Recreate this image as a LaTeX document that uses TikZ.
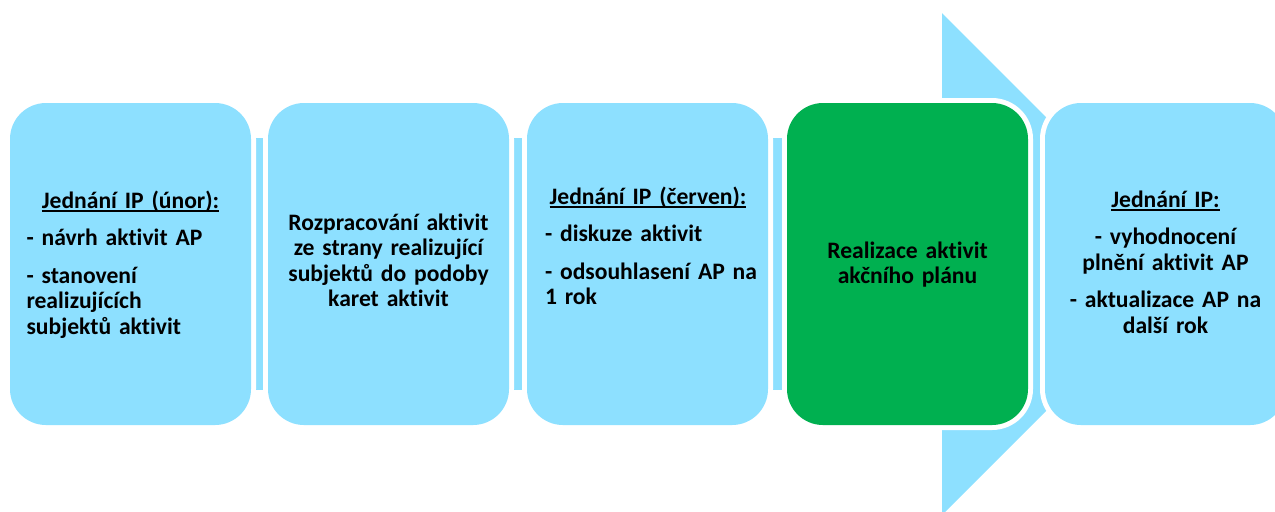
\documentclass[tikz,border=0pt]{standalone}
\usepackage{fontspec}
\setmainfont{Carlito}[Ligatures=NoCommon]
\definecolor{lb}{RGB}{141,224,255}
\definecolor{gr}{RGB}{0,176,80}
\newcommand{\myul}[1]{\setbox0\hbox{#1}\rlap{\rule[-1.9pt]{\wd0}{1pt}}\box0}
\begin{document}
\begin{tikzpicture}[x=0.5pt,y=-0.5pt,
  box/.style={rectangle, rounded corners=18pt, minimum width=120.5pt, minimum height=161pt,
    inner sep=0pt, fill=lb, preaction={draw=white, line width=5pt}},
  txt/.style={inner sep=0pt, anchor=base, font=\fontsize{11.8}{12.8}\selectfont\bfseries}]
\useasboundingbox (0,0) rectangle (1275,511);
\clip (0,0) rectangle (1275,511);
% big arrow
\fill[lb] (10,138) rectangle (942,390);
\fill[lb] (942,13) -- (1193,264) -- (942,515) -- cycle;
% boxes
\node[box] (b1) at (130.5,264) {};
\node[box] (b2) at (388.5,264) {};
\node[box] (b3) at (647.5,264) {};
\node[box, fill=gr] (b4) at (907.5,264) {};
\node[box] (b5) at (1165.5,264) {};
% texts
\node[txt, text width=104pt, align=left] (t1) at (130.5,208)
  {\makebox[\linewidth][c]{\myul{Jednání IP (únor):}}\\[6pt]
   - návrh aktivit AP\\[6pt]
   - stanovení\\realizujících\\subjektů aktivit};
\node[txt, text width=110pt, align=center] (t2) at (388.5,230)
  {Rozpracování aktivit\\ze strany realizující\\subjektů do podoby\\karet aktivit};
\node[txt, text width=110pt, align=left] (t3) at (655,204)
  {\makebox[103pt][c]{\myul{Jednání IP (červen):}}\\[6pt]
   - diskuze aktivit\\[6pt]
   - odsouhlasení AP na\\1 rok};
\node[txt, text width=110pt, align=center] (t4) at (907.5,258)
  {Realizace aktivit\\akčního plánu};
\node[txt, text width=110pt, align=center] (t5) at (1165.5,207)
  {\myul{Jednání IP:}\\[6pt]
   - vyhodnocení\\plnění aktivit AP\\[6pt]
   - aktualizace AP na\\další rok};
\end{tikzpicture}
\end{document}
